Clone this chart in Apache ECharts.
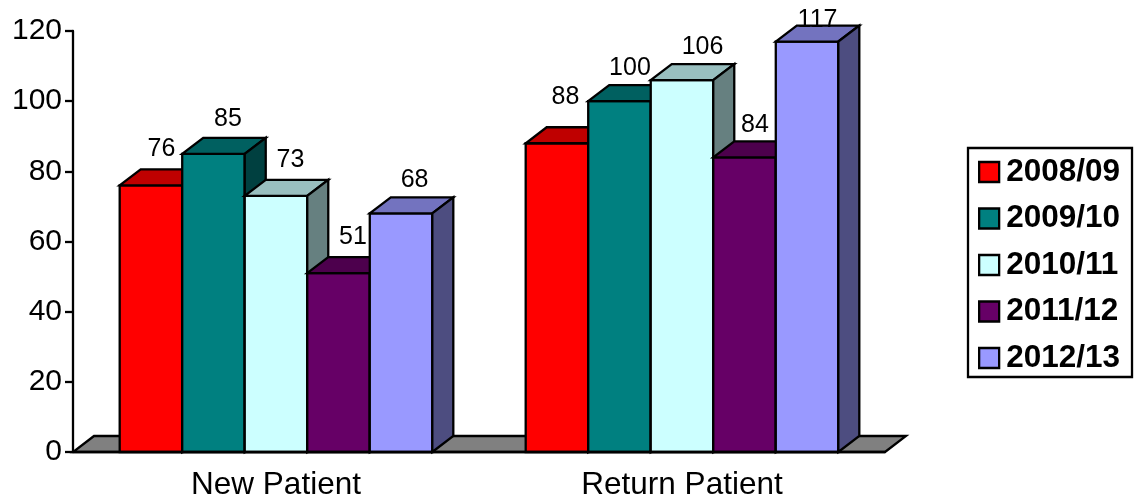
<!DOCTYPE html>
<html>
<head>
<meta charset="utf-8">
<style>html,body{margin:0;padding:0;background:#fff}#c{width:1135px;height:500px}</style>
<script src="https://cdn.jsdelivr.net/npm/echarts@6/dist/echarts.min.js"></script>
</head>
<body>
<div id="c"></div>
<script>
const categories = ['New Patient', 'Return Patient'];
const years = ['2008/09', '2009/10', '2010/11', '2011/12', '2012/13'];
const values2008 = [76, 88];
const values2009 = [85, 100];
const values2010 = [73, 106];
const values2011 = [51, 84];
const values2012 = [68, 117];
const yearValues = [values2008, values2009, values2010, values2011, values2012];
const colors = ['#FF0000', '#008080', '#CCFFFF', '#660066', '#9999FF'];

// Oblique depth of the pseudo-3D projection, and bar width as a share of the band.
const DEPTH_X = 21;
const DEPTH_Y = 16;
const BAR_SHARE = 0.77;
const FONT = '"Liberation Sans", Arial, sans-serif';
const EDGE = { stroke: '#000', lineWidth: 2.3, lineJoin: 'miter' };

// Hand adjustments [dx, dy] for value labels, per year then per category,
// so neighbouring labels clear each other and the bar tops.
const labelNudges = [
  [[0, 0], [-2, -10]],
  [[4, 1], [0, 3]],
  [[4, 0], [10, 3]],
  [[4, 0], [0, 4]],
  [[3, 3], [0, 0]]
];

function shade(hex, k) {
  const n = parseInt(hex.slice(1), 16);
  const c = [n >> 16, (n >> 8) & 255, n & 255].map(v => Math.round(v * k));
  return 'rgb(' + c.join(',') + ')';
}

function face(points, fill) {
  return { type: 'polygon', shape: { points }, style: Object.assign({ fill }, EDGE) };
}

function barRenderer(index) {
  return function (params, api) {
    const band = api.size([1, 0])[0];
    const w = band * BAR_SHARE / years.length;
    const value = api.value(1);
    const base = api.coord([api.value(0), 0]);
    const top = api.coord([api.value(0), value]);
    const x0 = base[0] - band * BAR_SHARE / 2 + index * w;
    const x1 = x0 + w;
    const y0 = base[1];
    const y1 = top[1];
    const c = colors[index];
    const nudge = labelNudges[index][params.dataIndex];
    return {
      type: 'group',
      children: [
        face([[x0, y0], [x1, y0], [x1, y1], [x0, y1]], c),
        face([[x0, y1], [x1, y1], [x1 + DEPTH_X, y1 - DEPTH_Y], [x0 + DEPTH_X, y1 - DEPTH_Y]], shade(c, 0.75)),
        face([[x1, y0], [x1 + DEPTH_X, y0 - DEPTH_Y], [x1 + DEPTH_X, y1 - DEPTH_Y], [x1, y1]], shade(c, 0.5)),
        {
          type: 'text',
          z2: 50,
          style: {
            text: String(value),
            x: (x0 + x1) / 2 + DEPTH_X / 2 + nudge[0],
            // Labels near the top of the plot stay inside the canvas.
            y: Math.max(y1 - 36 + nudge[1], 20),
            align: 'center',
            verticalAlign: 'middle',
            fill: '#000',
            fontSize: 25,
            fontFamily: FONT
          }
        }
      ]
    };
  };
}

function floorRenderer(params, api) {
  const cs = params.coordSys;
  const y = api.coord([0, 0])[1];
  const x0 = cs.x;
  const x1 = cs.x + cs.width;
  return face([[x0, y], [x1, y], [x1 + DEPTH_X, y - DEPTH_Y], [x0 + DEPTH_X, y - DEPTH_Y]], '#808080');
}

const series = [{
  type: 'custom',
  name: 'floor',
  silent: true,
  renderItem: floorRenderer,
  data: [[0, 0]],
  z: 1
}].concat(years.map((name, i) => ({
  type: 'custom',
  name,
  renderItem: barRenderer(i),
  itemStyle: { color: colors[i], borderColor: '#000', borderWidth: 2.3 },
  encode: { x: 0, y: 1 },
  data: categories.map((c, j) => [j, yearValues[i][j]]),
  z: 2 + i
})));

const chart = echarts.init(document.getElementById('c'), null, { width: 1135, height: 500 });
chart.setOption({
  animation: false,
  backgroundColor: '#fff',
  grid: { left: 73, right: 250, top: 31, height: 421, containLabel: false, outerBoundsMode: 'none' },
  xAxis: {
    type: 'category',
    data: categories,
    z: 10,
    axisLine: { lineStyle: { color: '#000', width: 2.3 } },
    axisTick: { length: 8, lineStyle: { color: '#000', width: 2.3 } },
    axisLabel: { color: '#000', fontSize: 31.5, fontFamily: FONT, margin: 17 }
  },
  yAxis: {
    type: 'value',
    min: 0,
    max: 120,
    interval: 20,
    z: 10,
    splitLine: { show: false },
    axisLine: { show: true, lineStyle: { color: '#000', width: 2.3 } },
    axisTick: { show: true, length: 8, lineStyle: { color: '#000', width: 2.3 } },
    axisLabel: { color: '#000', fontSize: 30, fontFamily: FONT, margin: 11 }
  },
  legend: {
    data: years,
    icon: 'rect',
    orient: 'vertical',
    left: 968,
    top: 148,
    padding: [8, 12, 3, 10],
    itemGap: 14.5,
    itemWidth: 20,
    itemHeight: 20,
    itemStyle: { borderColor: '#000', borderWidth: 2.3 },
    borderColor: '#000',
    borderWidth: 2.3,
    selectedMode: false,
    textStyle: { color: '#000', fontSize: 31.5, fontWeight: 'bold', fontFamily: FONT, lineHeight: 20, padding: [0, 0, 0, 2] }
  },
  series
});
</script>
</body>
</html>
